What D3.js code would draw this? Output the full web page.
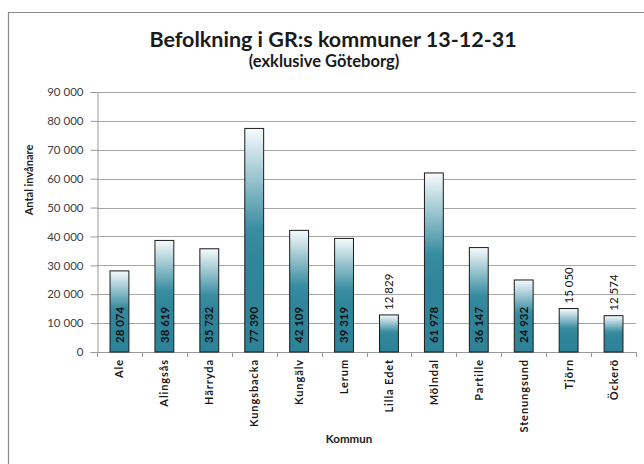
<!DOCTYPE html>
<html>
<head>
<meta charset="utf-8">
<script src="https://cdnjs.cloudflare.com/ajax/libs/d3/7.8.5/d3.min.js"></script>
<style>
  html, body { margin: 0; padding: 0; background: #fff; overflow: hidden; }
  svg { display: block; overflow: hidden; font-family: Lato, "Open Sans", sans-serif; }
</style>
</head>
<body>
<svg id="chart" width="644" height="464"></svg>
<script>
// kommuner och antal invånare 2013-12-31
const kommuner = ['Ale', 'Alingsås', 'Härryda', 'Kungsbacka', 'Kungälv', 'Lerum',
  'Lilla Edet', 'Mölndal', 'Partille', 'Stenungsund', 'Tjörn', 'Öckerö'];
const invanare = [28074, 38619, 35732, 77390, 42109, 39319,
  12829, 61978, 36147, 24932, 15050, 12574];
const yTicks = [0, 10000, 20000, 30000, 40000, 50000, 60000, 70000, 80000, 90000];

const data = kommuner.map((k, i) => ({ kommun: k, value: invanare[i] }));

const svg = d3.select('#chart');
const margin = { left: 97, right: 636, top: 92, bottom: 352 };

const fmt = v => d3.format(',')(v).replace(/,/g, ' ');

const x = d3.scaleBand()
  .domain(kommuner)
  .range([margin.left, margin.right])
  .paddingInner(0.58)
  .paddingOuter(0.29);

const y = d3.scaleLinear()
  .domain([0, 90000])
  .range([margin.bottom, margin.top]);

// outer frame: left and top edges only
svg.append('line')
  .attr('x1', 8.5).attr('x2', 8.5).attr('y1', 12).attr('y2', 464)
  .attr('stroke', '#8a8a8a').attr('stroke-width', 1.2);
svg.append('line')
  .attr('x1', 8).attr('x2', 644).attr('y1', 12.5).attr('y2', 12.5)
  .attr('stroke', '#8a8a8a').attr('stroke-width', 1.2);

// gradient for bars
const grad = svg.append('defs').append('linearGradient')
  .attr('id', 'barGrad')
  .attr('x1', 0).attr('y1', 0).attr('x2', 0).attr('y2', 1);
grad.append('stop').attr('offset', '0%').attr('stop-color', '#f7fbfc');
grad.append('stop').attr('offset', '45%').attr('stop-color', '#3a8da1');
grad.append('stop').attr('offset', '60%').attr('stop-color', '#2f8599');
grad.append('stop').attr('offset', '100%').attr('stop-color', '#2d8297');

// gridlines
svg.append('g')
  .selectAll('line')
  .data(yTicks.filter(d => d > 0))
  .join('line')
  .attr('x1', margin.left).attr('x2', margin.right)
  .attr('y1', d => Math.round(y(d)) + 0.5)
  .attr('y2', d => Math.round(y(d)) + 0.5)
  .attr('stroke', '#a6a6a6')
  .attr('stroke-width', 1);

// y axis
const yAxis = svg.append('g')
  .attr('transform', `translate(${margin.left + 0.5},0)`)
  .call(d3.axisLeft(y).tickValues(yTicks).tickFormat(fmt).tickSize(7).tickPadding(7));
yAxis.select('.domain').attr('stroke', '#999');
yAxis.selectAll('.tick line').attr('stroke', '#999');
yAxis.selectAll('.tick text')
  .attr('font-family', 'Lato, sans-serif')
  .attr('font-size', 11.5)
  .attr('fill', '#404040');

// x axis line and ticks at category borders
svg.append('line')
  .attr('x1', margin.left).attr('x2', margin.right)
  .attr('y1', margin.bottom + 0.5).attr('y2', margin.bottom + 0.5)
  .attr('stroke', '#999');

const half = (x.step() - x.bandwidth()) / 2;
const borders = kommuner.map(k => x(k) - half).concat([margin.right]);
svg.append('g')
  .selectAll('line')
  .data(borders)
  .join('line')
  .attr('x1', d => Math.round(d) + 0.5).attr('x2', d => Math.round(d) + 0.5)
  .attr('y1', margin.bottom).attr('y2', margin.bottom + 5)
  .attr('stroke', '#999');

// bars
svg.append('g')
  .selectAll('rect')
  .data(data)
  .join('rect')
  .attr('x', d => x(d.kommun))
  .attr('y', d => y(d.value))
  .attr('width', x.bandwidth())
  .attr('height', d => y(0) - y(d.value))
  .attr('fill', 'url(#barGrad)')
  .attr('stroke', '#1a1a1a')
  .attr('stroke-width', 1);

// value labels: inside the base, or above the bar when it is short
svg.append('g')
  .selectAll('text')
  .data(data)
  .join('text')
  .attr('transform', d => {
    const cx = x(d.kommun) + x.bandwidth() / 2;
    const ty = d.value < 20000 ? y(d.value) - 5 : margin.bottom - 9;
    return `translate(${cx},${ty}) rotate(-90)`;
  })
  .attr('dy', '0.36em')
  .attr('text-anchor', 'start')
  .attr('font-size', 11.5)
  .attr('font-weight', d => d.value < 20000 ? 'normal' : 'bold')
  .attr('fill', '#111')
  .text(d => fmt(d.value));

// category labels
svg.append('g')
  .selectAll('text')
  .data(kommuner)
  .join('text')
  .attr('transform', d => `translate(${x(d) + x.bandwidth() / 2},359) rotate(-90)`)
  .attr('dy', '0.36em')
  .attr('text-anchor', 'end')
  .attr('font-size', 11)
  .attr('letter-spacing', 0.9)
  .attr('font-weight', 'bold')
  .attr('fill', '#1a1a1a')
  .text(d => d);

// titles
svg.append('text')
  .attr('x', 333).attr('y', 47)
  .attr('text-anchor', 'middle')
  .attr('font-size', 21.5)
  .attr('font-weight', 'bold')
  .attr('fill', '#1a1a1a')
  .text('Befolkning i GR:s kommuner 13-12-31');

svg.append('text')
  .attr('x', 324).attr('y', 67)
  .attr('text-anchor', 'middle')
  .attr('font-size', 16.5)
  .attr('font-weight', 'bold')
  .attr('fill', '#1a1a1a')
  .text('(exklusive Göteborg)');

svg.append('text')
  .attr('transform', 'translate(29,180) rotate(-90)')
  .attr('dy', '0.36em')
  .attr('text-anchor', 'middle')
  .attr('font-size', 11)
  .attr('font-weight', 'bold')
  .attr('fill', '#1a1a1a')
  .text('Antal invånare');

svg.append('text')
  .attr('x', 349).attr('y', 443)
  .attr('text-anchor', 'middle')
  .attr('font-size', 11.5)
  .attr('font-weight', 'bold')
  .attr('fill', '#1a1a1a')
  .text('Kommun');
</script>
</body>
</html>
